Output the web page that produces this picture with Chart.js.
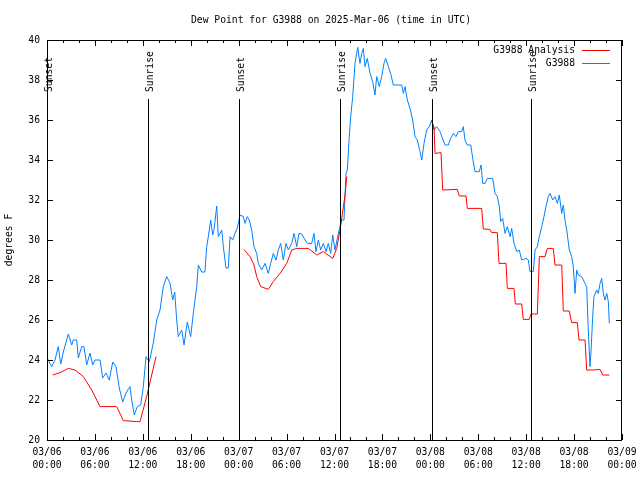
<!DOCTYPE html>
<html>
<head>
<meta charset="utf-8">
<title>Dew Point for G3988</title>
<script src="https://cdn.jsdelivr.net/npm/chart.js@4.4.1/dist/chart.umd.min.js"></script>
<style>
  html, body { margin: 0; padding: 0; background: #fff; }
  #wrap { width: 640px; height: 480px; }
</style>
</head>
<body>
<div id="wrap"><canvas id="dewChart" width="640" height="480"></canvas></div>
<script>
// 1. Data (hours since 03/06 00:00 UTC, degrees F)
const stationHours = [
  0.04, 0.59, 1.00, 1.41, 1.72, 2.04, 2.67, 3.09, 3.29, 3.72, 3.92, 4.35, 4.63, 4.97, 5.38, 5.72,
  6.01, 6.64, 6.97, 7.39, 7.80, 8.23, 8.64, 9.05, 9.48, 9.89, 10.39, 10.61, 10.93, 11.31, 11.73,
  12.06, 12.40, 12.81, 13.31, 13.74, 14.15, 14.56, 14.99, 15.40, 15.74, 15.99, 16.24, 16.44, 16.87,
  17.16, 17.57, 17.99, 18.32, 18.75, 18.95, 19.37, 19.78, 20.00, 20.20, 20.50, 20.75, 20.91, 21.25,
  21.45, 21.88, 22.08, 22.41, 22.70, 22.92, 23.25, 23.54, 23.83, 24.17, 24.58, 24.79, 25.08, 25.33,
  25.63, 25.92, 26.26, 26.46, 26.88, 27.30, 27.71, 28.01, 28.34, 28.68, 28.96, 29.26, 29.59, 29.93,
  30.22, 30.64, 30.93, 31.27, 31.56, 31.89, 32.31, 32.59, 33.15, 33.43, 33.68, 33.97, 34.27, 34.60,
  34.94, 35.22, 35.52, 35.78, 36.06, 36.35, 36.69, 36.90, 37.19, 37.44, 37.60, 37.85, 38.03, 38.28,
  38.57, 38.91, 39.19, 39.41, 39.61, 39.82, 40.11, 40.45, 40.78, 41.07, 41.28, 41.61, 41.91, 42.20,
  42.41, 42.74, 43.08, 43.36, 43.79, 44.42, 44.62, 44.83, 45.12, 45.45, 45.79, 46.08, 46.37, 46.71,
  46.92, 47.21, 47.55, 47.87, 48.17, 48.46, 48.80, 49.21, 49.84, 50.25, 50.55, 50.88, 51.21, 51.50,
  51.93, 52.13, 52.34, 52.63, 53.06, 53.31, 53.59, 54.13, 54.35, 54.56, 54.85, 55.13, 55.81, 56.10,
  56.39, 56.64, 56.81, 57.06, 57.35, 57.64, 57.98, 58.19, 58.48, 58.82, 59.14, 59.44, 59.98, 60.27,
  60.48, 60.89, 61.11, 61.40, 61.65, 61.95, 62.23, 62.48, 62.77, 62.99, 63.32, 63.61, 63.90, 64.15,
  64.45, 64.65, 64.86, 65.08, 65.40, 65.70, 65.90, 66.12, 66.33, 66.53, 66.95, 67.37, 67.58, 67.78,
  67.99, 68.12, 68.33, 68.49, 68.83, 69.03, 69.25, 69.46, 69.66, 69.87, 70.09, 70.29, 70.41
];
const stationDew = [
  24.08, 23.67, 24.00, 24.67, 23.80, 24.40, 25.30, 24.75, 25.00, 25.00, 24.10, 24.67, 24.67, 23.75, 24.35, 23.75,
  24.00, 24.00, 23.10, 23.35, 23.00, 23.90, 23.67, 22.60, 21.90, 22.35, 22.67, 22.00, 21.25, 21.67, 21.75,
  22.67, 24.17, 23.90, 24.85, 26.00, 26.50, 27.67, 28.17, 27.85, 27.00, 27.40, 26.00, 25.17, 25.50,
  24.75, 25.90, 25.17, 26.33, 27.67, 28.75, 28.40, 28.40, 29.67, 30.17, 31.00, 30.25, 30.50, 31.70,
  30.17, 30.50, 29.67, 28.60, 28.60, 30.17, 30.00, 30.33, 30.60, 31.25, 31.17, 30.83, 31.17, 31.00,
  30.50, 29.67, 29.33, 28.83, 28.50, 28.83, 28.33, 28.83, 29.33, 29.00, 29.50, 29.83, 29.00, 29.83,
  29.50, 29.83, 30.33, 29.67, 30.33, 30.30, 30.00, 29.83, 29.83, 30.33, 29.42, 30.00, 29.50, 29.83,
  29.42, 29.83, 29.33, 30.25, 29.50, 30.08, 30.67, 31.00, 31.00, 33.33, 33.50, 35.17, 36.17, 37.17,
  38.83, 39.63, 38.83, 39.33, 39.58, 38.67, 39.08, 38.33, 37.92, 37.25, 38.17, 37.67, 38.17, 38.83,
  39.08, 38.67, 38.25, 37.75, 37.75, 37.75, 37.33, 37.67, 37.00, 36.58, 36.00, 35.17, 35.00, 34.42,
  34.00, 34.83, 35.50, 35.67, 36.00, 35.50, 35.67, 35.42, 34.75, 34.75, 35.08, 35.33, 35.17, 35.42,
  35.42, 35.67, 35.00, 34.75, 34.75, 34.08, 33.42, 33.42, 33.75, 32.83, 32.83, 33.08, 33.08, 32.33,
  32.17, 31.67, 30.92, 31.08, 30.33, 30.67, 30.17, 30.58, 29.83, 29.42, 29.50, 29.00, 29.08, 29.00,
  28.42, 28.42, 29.50, 29.67, 30.17, 30.67, 31.17, 31.67, 32.17, 32.33, 32.00, 32.17, 31.83, 32.25,
  31.33, 31.75, 31.00, 30.50, 29.50, 29.17, 28.67, 27.33, 28.50, 28.25, 28.17, 27.83, 27.67, 25.50,
  23.67, 24.42, 26.17, 27.17, 27.50, 27.33, 27.83, 28.08, 27.33, 27.00, 27.33, 26.92, 25.83
];

// analysis has gaps (null) where no value was plotted
const analysisHours = [
  0.71, 1.63, 2.67, 3.51, 4.55, 5.60, 6.64, 8.73, 9.55, 11.23, 11.65, 12.48, 13.65,
  19.00,
  24.67, 25.42, 25.92, 26.26, 26.76, 27.71, 28.34, 29.18, 30.02, 30.64, 31.27, 32.72, 33.77,
  34.60, 35.78, 36.28, 36.69, 37.03, 37.32, 37.53,
  43.00,
  48.17, 48.46, 48.59, 49.34, 49.55, 51.38, 51.63, 52.47, 52.63, 54.43, 54.63, 55.47, 55.68,
  56.39, 56.60, 57.48, 57.64, 58.48, 58.64, 59.44, 59.64, 60.39, 60.61, 61.40, 61.65, 62.36,
  62.65, 63.40, 63.61, 64.45, 64.65, 65.40, 65.70, 66.40, 66.62, 67.37, 67.58, 68.33, 69.25,
  69.59, 70.41
];
const analysisDew = [
  23.25, 23.37, 23.58, 23.50, 23.17, 22.50, 21.67, 21.67, 20.97, 20.92, 20.92, 22.17, 24.17,
  null,
  29.53, 29.17, 28.75, 28.17, 27.67, 27.53, 27.92, 28.33, 28.83, 29.50, 29.58, 29.58, 29.25,
  29.42, 29.08, 29.58, 30.50, 31.42, 32.25, 33.17,
  null,
  35.92, 35.67, 34.33, 34.37, 32.50, 32.53, 32.20, 32.20, 31.58, 31.58, 30.55, 30.53, 30.37,
  30.37, 28.83, 28.83, 27.58, 27.58, 26.80, 26.80, 26.03, 26.03, 26.30, 26.30, 29.17, 29.17,
  29.58, 29.58, 28.75, 28.75, 26.45, 26.45, 25.87, 25.87, 25.00, 25.00, 23.50, 23.50, 23.53,
  23.25, 23.25
];

const sunHours = [0.04, 12.69, 24.08, 36.69, 48.17, 60.61];
const sunLabels = ['Sunset', 'Sunrise', 'Sunset', 'Sunrise', 'Sunset', 'Sunrise'];

const dayLabels = ['03/06', '03/06', '03/06', '03/06', '03/07', '03/07', '03/07', '03/07',
  '03/08', '03/08', '03/08', '03/08', '03/09'];
const timeLabels = ['00:00', '06:00', '12:00', '18:00', '00:00', '06:00', '12:00', '18:00',
  '00:00', '06:00', '12:00', '18:00', '00:00'];

// 2. Styling helpers
const MONO = "'DejaVu Sans Mono', 'Liberation Mono', monospace";
const FONT_SIZE = 9.7;
const toPoints = (xs, ys) => xs.map((x, i) => ({ x: x, y: ys[i] }));

// gnuplot style frame, inward ticks, sun markers, legend and title
const gnuplotDecor = {
  id: 'gnuplotDecor',
  afterDatasetsDraw(chart) {
    const { ctx, chartArea: area, scales } = chart;
    const xs = scales.x, ys = scales.y;
    ctx.save();
    ctx.strokeStyle = '#000';
    ctx.lineWidth = 1;
    ctx.fillStyle = '#000';
    ctx.font = FONT_SIZE + 'px ' + MONO;

    // sunrise / sunset markers
    const markTop = area.top + Math.round(area.height * 0.1475);
    sunHours.forEach((h, i) => {
      const px = Math.round(xs.getPixelForValue(h)) + 0.5;
      ctx.beginPath();
      ctx.moveTo(px, area.bottom);
      ctx.lineTo(px, markTop);
      ctx.stroke();
      ctx.save();
      ctx.translate(px + 1.5, markTop - 7);
      ctx.rotate(-Math.PI / 2);
      ctx.textAlign = 'left';
      ctx.textBaseline = 'middle';
      ctx.fillText(sunLabels[i], 0, 0);
      ctx.restore();
    });

    // frame
    ctx.strokeRect(area.left + 0.5, area.top + 0.5, area.width - 1, area.height);

    // y ticks, both sides
    ys.ticks.forEach(t => {
      const py = Math.round(ys.getPixelForValue(t.value)) + 0.5;
      ctx.beginPath();
      ctx.moveTo(area.left, py); ctx.lineTo(area.left + 6, py);
      ctx.moveTo(area.right, py); ctx.lineTo(area.right - 6, py);
      ctx.stroke();
    });

    // x ticks every 2h, longer at labelled 6h marks, top and bottom
    for (let h = xs.min; h <= xs.max; h += 2) {
      const px = Math.round(xs.getPixelForValue(h)) + 0.5;
      const len = h % 6 === 0 ? 6 : 3;
      ctx.beginPath();
      ctx.moveTo(px, area.bottom); ctx.lineTo(px, area.bottom - len);
      ctx.moveTo(px, area.top); ctx.lineTo(px, area.top + len);
      ctx.stroke();
    }

    // legend (text left of the line sample)
    chart.data.datasets.forEach((ds, i) => {
      const ly = area.top + 10 + i * 13;
      ctx.textAlign = 'right';
      ctx.textBaseline = 'middle';
      ctx.fillStyle = '#000';
      ctx.fillText(ds.label, 575, ly);
      ctx.strokeStyle = ds.borderColor;
      ctx.beginPath();
      ctx.moveTo(582, ly + 0.5);
      ctx.lineTo(610, ly + 0.5);
      ctx.stroke();
    });

    // title
    ctx.fillStyle = '#000';
    ctx.textAlign = 'center';
    ctx.textBaseline = 'middle';
    ctx.fillText('Dew Point for G3988 on 2025-Mar-06 (time in UTC)', 331, 20);
    ctx.restore();
  }
};

// 3. Chart
const dewCtx = document.getElementById('dewChart');

new Chart(dewCtx, {
  type: 'line',
  data: {
    datasets: [
      {
        label: 'G3988 Analysis',
        data: toPoints(analysisHours, analysisDew),
        borderColor: '#ff0000',
        borderWidth: 1,
        pointRadius: 0,
        tension: 0,
        spanGaps: false
      },
      {
        label: 'G3988',
        data: toPoints(stationHours, stationDew),
        borderColor: '#0080ff',
        borderWidth: 1,
        pointRadius: 0,
        tension: 0
      }
    ]
  },
  options: {
    responsive: false,
    animation: false,
    devicePixelRatio: 1,
    layout: { padding: { top: 40, right: 18, left: 0, bottom: 0 } },
    plugins: {
      legend: { display: false },
      title: { display: false },
      tooltip: { enabled: false }
    },
    scales: {
      x: {
        type: 'linear',
        min: 0,
        max: 72,
        // tick marks are drawn by the plugin; tickLength only offsets the labels
        grid: { display: false, drawTicks: true, tickLength: 5 },
        border: { display: false },
        afterFit: (s) => { s.height = 40; },
        ticks: {
          stepSize: 6,
          autoSkip: false,
          maxRotation: 0,
          padding: 1,
          color: '#000',
          font: { family: MONO, size: FONT_SIZE, lineHeight: 1.35 },
          callback: (v) => {
            const i = Math.round(v / 6);
            return [dayLabels[i], timeLabels[i]];
          }
        }
      },
      y: {
        min: 20,
        max: 40,
        grid: { display: false, drawTicks: false },
        border: { display: false },
        afterFit: (s) => { s.width = 47; },
        title: {
          display: true,
          text: 'degrees F',
          color: '#000',
          font: { family: MONO, size: FONT_SIZE },
          padding: { top: 4, bottom: 0 }
        },
        ticks: {
          stepSize: 2,
          padding: 7,
          color: '#000',
          font: { family: MONO, size: FONT_SIZE }
        }
      }
    }
  },
  plugins: [gnuplotDecor]
});
</script>
</body>
</html>
